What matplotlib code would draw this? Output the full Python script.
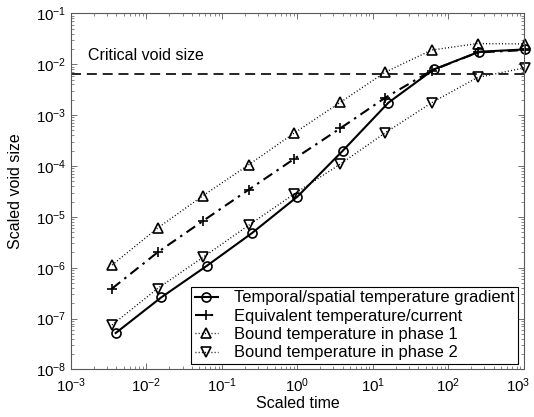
import matplotlib
matplotlib.use("Agg")
import matplotlib.pyplot as plt
import matplotlib.transforms as mtransforms
from matplotlib.ticker import FixedLocator, LogLocator, NullFormatter

plt.rcParams['font.family'] = ['Liberation Sans', 'DejaVu Sans']
plt.rcParams['mathtext.fontset'] = 'custom'
plt.rcParams['mathtext.rm'] = 'Liberation Sans'
plt.rcParams['mathtext.it'] = 'Liberation Sans'
plt.rcParams['font.size'] = 11.5

# scaled time of the samples
t_grad = [1/256, 1/64, 1/16, 1/4, 1, 4, 16, 64, 256, 1024]
t_other = [0.0035, 0.014, 0.056, 0.225, 0.9, 3.7, 14.6, 60, 244, 1024]

# scaled void size
v_grad = [5.2e-8, 2.6e-7, 1.08e-6, 4.8e-6, 2.5e-5, 2.0e-4, 1.75e-3, 7.9e-3, 1.76e-2, 1.95e-2]
v_equiv = [3.9e-7, 2.0e-6, 8.3e-6, 3.4e-5, 1.37e-4, 5.5e-4, 2.2e-3, 7.5e-3, 1.7e-2, 1.9e-2]
v_phase1 = [1.13e-6, 6.0e-6, 2.6e-5, 1.05e-4, 4.4e-4, 1.78e-3, 7.0e-3, 1.9e-2, 2.55e-2, 2.5e-2]
v_phase2 = [7.5e-8, 3.9e-7, 1.6e-6, 6.8e-6, 2.8e-5, 1.09e-4, 4.5e-4, 1.75e-3, 5.5e-3, 8.5e-3]

critical = 6.5e-3

x_decades = [1e-3, 1e-2, 1e-1, 1e0, 1e1, 1e2, 1e3]
y_decades = [1e-8, 1e-7, 1e-6, 1e-5, 1e-4, 1e-3, 1e-2, 1e-1]

fig = plt.figure(figsize=(5.34, 4.17), dpi=100)
ax = fig.add_axes([0.133, 0.114, 0.848, 0.854])

ax.axhline(critical, color='k', ls=(0, (6, 3.5)), lw=1.2)
ax.text(0.038, 0.882, 'Critical void size', transform=ax.transAxes,
        va='center', ha='left', fontsize=11.5)

mk = dict(markerfacecolor='none', markeredgecolor='k', markersize=6.5,
          markeredgewidth=1.2, clip_on=False)
ax.plot(t_grad, v_grad, 'k-', marker='o', lw=1.5,
        label='Temporal/spatial temperature gradient', **mk)
ax.plot(t_other, v_equiv, 'k', ls=(0, (5, 2.5, 1.2, 2.5)), marker='+', lw=1.5,
        label='Equivalent temperature/current', **mk)
ax.plot(t_other, v_phase1, 'k', ls=(0, (0.7, 1.6)), marker='^', lw=1.0,
        label='Bound temperature in phase 1', **mk)
ax.plot(t_other, v_phase2, 'k', ls=(0, (0.7, 1.6)), marker='v', lw=1.0,
        label='Bound temperature in phase 2', **mk)

ax.set_xscale('log')
ax.set_yscale('log')
ax.set_xlim(1e-3, 1e3)
ax.set_ylim(1e-8, 1e-1)

ax.xaxis.set_major_locator(FixedLocator(x_decades))
ax.yaxis.set_major_locator(FixedLocator(y_decades))
ax.xaxis.set_minor_locator(LogLocator(base=10, subs=range(2, 10), numticks=20))
ax.yaxis.set_minor_locator(LogLocator(base=10, subs=range(2, 10), numticks=20))
ax.xaxis.set_minor_formatter(NullFormatter())
ax.yaxis.set_minor_formatter(NullFormatter())

ax.tick_params(which='both', direction='in', top=True, right=True,
               color='0.35', labelsize=10.8)
ax.tick_params(which='major', length=4, width=0.6)
ax.tick_params(which='minor', length=2, width=0.5)
ax.tick_params(axis='x', which='major', pad=5)
ax.tick_params(axis='y', which='major', pad=3.5)
for s in ax.spines.values():
    s.set_color('0.35')
    s.set_linewidth(0.8)

# keep the last x label inside the figure
shift = mtransforms.ScaledTranslation(-4 / 72, 0, fig.dpi_scale_trans)
last = ax.get_xticklabels()[-1]
last.set_transform(last.get_transform() + shift)

ax.set_xlabel('Scaled time', fontsize=11.5, labelpad=1)
ax.set_ylabel('Scaled void size', fontsize=11.5, labelpad=9)

leg = ax.legend(loc='lower right', fontsize=11.9, frameon=True, fancybox=False,
                edgecolor='k', framealpha=1, borderpad=0.2, labelspacing=0.2,
                handlelength=1.4, handletextpad=1.0, borderaxespad=0.35)
leg.get_frame().set_linewidth(0.8)

fig.savefig('out.png', dpi=100)
